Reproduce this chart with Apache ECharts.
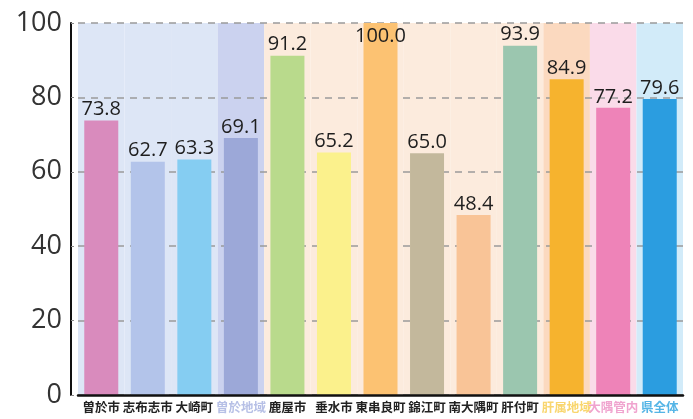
<!DOCTYPE html>
<html><head><meta charset="utf-8">
<script src="https://cdn.jsdelivr.net/npm/echarts@6/dist/echarts.min.js"></script>
<style>html,body{margin:0;padding:0;background:#fff}#c{width:693px;height:419px}</style>
</head><body><div id="c"></div>
<script>
const categories = ['曽於市','志布志市','大崎町','曽於地域','鹿屋市','垂水市','東串良町','錦江町','南大隅町','肝付町','肝属地域','大隅管内','県全体'];
const values = [73.8, 62.7, 63.3, 69.1, 91.2, 65.2, 100.0, 65.0, 48.4, 93.9, 84.9, 77.2, 79.6];
const yTicks = [0, 20, 40, 60, 80, 100];
const barColors = ['#d98bbd','#b3c4ea','#85cdf2','#9ca8d8','#b9da8c','#fbf18c','#fcc272','#c3b89c','#f9c497','#9bc6af','#f6b32e','#ee83b8','#2b9de0'];
const bandColors = ['#dde6f6','#dde6f6','#dde6f6','#cbd2ef','#fcebdd','#fcebdd','#fcebdd','#fcebdd','#fcebdd','#fcebdd','#fbd9bf','#fadbe9','#d2ebf9'];
const labelColors = ['#222','#222','#222','#b7c0e6','#222','#222','#222','#222','#222','#222','#f9d66e','#f0a4cf','#55b5e6'];

const yMax = yTicks[yTicks.length-1];
const chart = echarts.init(document.getElementById('c'));
chart.setOption({
  animation: false,
  grid: { left: 78, right: 10, top: 23, bottom: 24 },
  xAxis: [{
    type: 'category', data: categories,
    axisLine: { show: true, lineStyle: { color: '#111', width: 2.5 } },
    axisTick: { show: false },
    axisLabel: {
      interval: 0, margin: 6, fontSize: 12.5, fontWeight: 'bold',
      fontFamily: 'Noto Sans CJK JP',
      color: function (v, i) { return labelColors[i]; }
    },
    z: 5
  }, {
    type: 'category', data: categories, show: false
  }],
  yAxis: {
    type: 'value', min: 0, max: yMax, interval: 20, offset: 7,
    axisLine: { show: true, lineStyle: { color: '#111', width: 2 } },
    axisTick: { show: true, inside: true, length: 3, lineStyle: { color: '#888' } },
    axisLabel: { fontSize: 27, color: '#333', margin: 9, fontFamily: 'Open Sans' },
    splitLine: { show: true, lineStyle: { color: '#9a9a9a', width: 1.5, type: [7, 6] } },
    z: 1
  },
  series: [{
    type: 'bar', xAxisIndex: 1, barWidth: '100%', silent: true, z: 0,
    data: bandColors.map(c => ({ value: yMax, itemStyle: { color: c } }))
  }, {
    type: 'bar', xAxisIndex: 0, barWidth: 34, z: 3,
    data: values.map((v, i) => {
      const d = { value: v, itemStyle: { color: barColors[i] } };
      if (v >= yMax) d.label = { position: 'insideTop', distance: 3 };
      return d;
    }),
    label: {
      show: true, position: 'top', distance: 1,
      formatter: p => p.value.toFixed(1),
      fontSize: 20, fontWeight: 500, color: '#1e1e1e', fontFamily: 'Open Sans'
    }
  }]
});
</script></body></html>
